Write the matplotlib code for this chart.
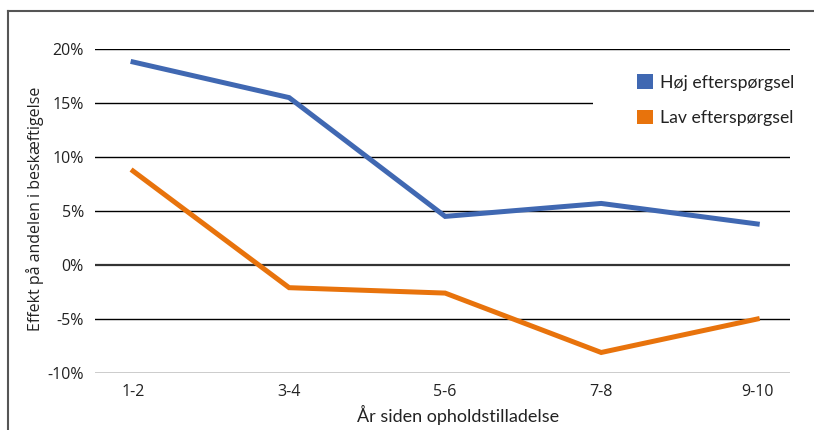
import matplotlib
matplotlib.use("Agg")
import matplotlib.pyplot as plt
from matplotlib.patches import Patch, Rectangle
from matplotlib.lines import Line2D

categories = ["1-2", "3-4", "5-6", "7-8", "9-10"]
hoej = [18.8, 15.5, 4.5, 5.7, 3.8]
lav = [8.7, -2.1, -2.6, -8.1, -5.0]
series_names = ["Høj efterspørgsel", "Lav efterspørgsel"]
yticks = [-10, -5, 0, 5, 10, 15, 20]
ytick_labels = ["-10%", "-5%", "0%", "5%", "10%", "15%", "20%"]
xlabel = "År siden opholdstilladelse"
ylabel = "Effekt på andelen i beskæftigelse"

BLUE = "#4068B2"
ORANGE = "#E8730C"

W, H = 814, 430
fig = plt.figure(figsize=(W / 100, H / 100), dpi=100)
ax = fig.add_axes([95 / W, 1 - 373 / H, (790 - 95) / W, (373 - 49) / H])

x = list(range(len(categories)))
ax.set_xlim(-0.244, 4.21)
ax.set_ylim(-10, 20)

for yv in yticks:
    if yv == 0:
        ax.axhline(yv, color="#333333", lw=1.6, zorder=1)
    else:
        ax.axhline(yv, color="black", lw=1.0, zorder=1)

# white area behind legend (legend background hides part of gridline)
ax.add_patch(Rectangle(((593 - 95) / (790 - 95), (373 - 150) / 324),
                       (790 - 593) / (790 - 95), (150 - 58) / 324,
                       transform=ax.transAxes, facecolor="white",
                       edgecolor="none", zorder=1.5))

ax.plot(x, hoej, color=BLUE, lw=3.6, zorder=3, solid_joinstyle="miter")
ax.plot(x, lav, color=ORANGE, lw=3.6, zorder=3, solid_joinstyle="miter")

for s in ax.spines.values():
    s.set_visible(False)

ax.set_xticks(x)
ax.set_xticklabels(categories, fontfamily="Open Sans", fontsize=11.5, color="#222222")
ax.set_yticks(yticks)
ax.set_yticklabels(ytick_labels, fontfamily="Open Sans", fontsize=11.5, color="#222222")
ax.tick_params(axis="both", length=0)
ax.tick_params(axis="y", pad=8)
ax.tick_params(axis="x", pad=8)

fig.text(35 / W, 1 - 209 / H, ylabel, rotation=90, ha="center", va="center",
         fontfamily="Open Sans", fontsize=11.5, color="#222222")
fig.text(458 / W, 1 - 415 / H, xlabel, ha="center", va="center",
         fontfamily="Lato", fontsize=13, color="#222222")

handles = [Patch(facecolor=BLUE, edgecolor="none"),
           Patch(facecolor=ORANGE, edgecolor="none")]
leg = ax.legend(handles, series_names, loc="upper left",
                bbox_to_anchor=((632 - 95) / (790 - 95), (373 - 69) / 324),
                frameon=False, prop={"family": "Lato", "size": 12.7},
                handlelength=0.88, handleheight=0.88, handletextpad=0.4,
                labelspacing=1.1, borderaxespad=0, borderpad=0.3)
for t in leg.get_texts():
    t.set_color("#222222")

# figure border (top and left)
fig.add_artist(Line2D([7.5 / W, 7.5 / W], [0, 1 - 10.5 / H], transform=fig.transFigure,
                      color="#555555", lw=1.5))
fig.add_artist(Line2D([7.5 / W, 1], [1 - 10.5 / H, 1 - 10.5 / H], transform=fig.transFigure,
                      color="#555555", lw=1.5))

fig.savefig("out.png", dpi=100)
